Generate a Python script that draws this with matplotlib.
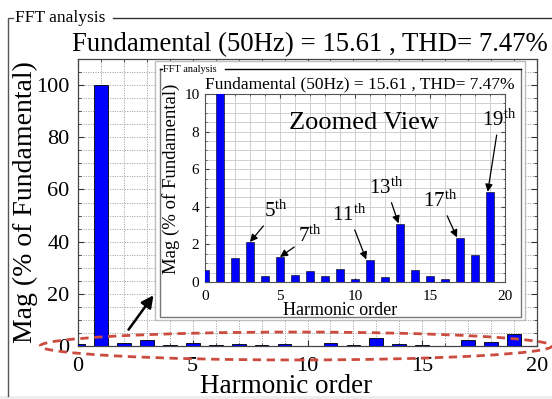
import matplotlib
matplotlib.use("Agg")
import matplotlib.pyplot as plt
from matplotlib.patches import Ellipse, Rectangle
from matplotlib.lines import Line2D
from matplotlib.ticker import MultipleLocator

plt.rcParams['font.family'] = ['Liberation Serif', 'DejaVu Serif']
plt.rcParams['mathtext.fontset'] = 'custom'
plt.rcParams['mathtext.rm'] = 'Liberation Serif'
plt.rcParams['mathtext.it'] = 'Liberation Serif:italic'

# Harmonic spectrum, magnitude in % of the fundamental
harmonics = list(range(0, 21))
magnitude = [0.66, 100.0, 1.27, 2.13, 0.34, 1.31, 0.39, 0.61, 0.30, 0.70,
             0.16, 1.16, 0.25, 3.08, 0.66, 0.34, 0.16, 2.35, 1.43, 4.78, 0.0]

title_text = "Fundamental (50Hz) = 15.61 , THD= 7.47%"
panel_label = "FFT analysis"
x_label = "Harmonic order"
y_label = "Mag (% of Fundamental)"

# labelled harmonics in the zoomed view: (text, label position, arrow tip)
callouts = [
    ("5",  (4.7, 3.75),  (3.0, 2.13)),
    ("7",  (7.0, 2.45),  (5.0, 1.33)),
    ("11", (9.6, 3.55),  (10.75, 1.2)),
    ("13", (12.1, 5.0),  (12.9, 3.12)),
    ("17", (15.7, 4.3),  (16.8, 2.37)),
    ("19", (19.6, 8.6),  (18.85, 4.8)),
]

W, H = 552, 399
fig = plt.figure(figsize=(W / 100, H / 100), dpi=100)
fig.patch.set_facecolor('white')


def fx(px):
    return px / W


def fy(py):
    return 1 - py / H


def frame_line(xs, ys, color='black', lw=1.0, z=0.5):
    fig.add_artist(Line2D([fx(x) for x in xs], [fy(y) for y in ys],
                          color=color, lw=lw, zorder=z))


# outer panel frame
fig.add_artist(Rectangle((0, 0), 1, fy(396), transform=fig.transFigure,
                         facecolor='#ededed', edgecolor='none', zorder=0.1))
frame_line([8, 8, 13], [396, 18, 18], color='#555555')
frame_line([113, 552], [18, 18], color='#333333')
fig.text(fx(15), fy(18), panel_label, fontsize=12.5, va='center', ha='left')
fig.text(fx(310), fy(51), title_text, fontsize=19.3, ha='center', va='baseline')

# main axes
ax = fig.add_axes([fx(78), fy(346), fx(537) - fx(78), fy(59) - fy(346)])
ax.bar(harmonics, magnitude, width=0.6, color='#0000ff', edgecolor='black',
       linewidth=0.6, zorder=3)
ax.set_xlim(0, 20)
ax.set_ylim(0, 110)
ax.xaxis.set_major_locator(MultipleLocator(5))
ax.xaxis.set_minor_locator(MultipleLocator(1))
ax.yaxis.set_major_locator(MultipleLocator(20))
ax.yaxis.set_minor_locator(MultipleLocator(5))
ax.grid(True, which='both', color='#9a9a9a', linestyle=(0, (1, 1.5)), lw=0.7)
ax.set_axisbelow(True)
ax.tick_params(which='both', direction='in', top=True, right=True,
               labelsize=16, colors='#333333', labelcolor='black')
ax.tick_params(which='major', length=4)
ax.tick_params(which='minor', length=2)
ax.tick_params(axis='x', pad=8)
ax.tick_params(axis='y', pad=6)
for s in ax.spines.values():
    s.set_color('#444444')
    s.set_linewidth(0.9)
fig.text(fx(286), fy(393), x_label, fontsize=19.5, ha='center', va='baseline')
fig.text(fx(25), fy(202), y_label, fontsize=20, ha='center', va='center',
         rotation=90)

# highlighted low-magnitude band
ax.add_patch(Ellipse((9.5, 0), 22.3, 10.7, fill=False, edgecolor='#cc4b3f',
                     lw=2.0, linestyle=(0, (3, 2)), clip_on=False, zorder=5))
ax.annotate('', xy=(3.36, 20.3), xytext=(2.13, 5.4),
            arrowprops=dict(arrowstyle='-|>', color='black', lw=1.8,
                            mutation_scale=18), zorder=6, annotation_clip=False)

# inset panel
fig.add_artist(Rectangle((fx(155), fy(320)), fx(525) - fx(155), fy(61) - fy(320),
                         transform=fig.transFigure, facecolor='white',
                         edgecolor='#bdbdbd', lw=1.0, zorder=1))
frame_line([160, 160, 521, 521], [69, 317, 317, 69], color='#777777', lw=1.0, z=1.1)
frame_line([160, 162], [69, 69], color='black', z=1.1)
frame_line([225, 521], [69, 69], color='black', z=1.1)
fig.text(fx(163), fy(69), panel_label, fontsize=7.5, va='center', ha='left', zorder=1.2)
fig.text(fx(360), fy(88), title_text, fontsize=12.5, ha='center', va='baseline',
         zorder=1.2)

ins = fig.add_axes([fx(205), fy(282), fx(505) - fx(205), fy(94) - fy(282)])
ins.set_zorder(2)
ins.bar(harmonics, magnitude, width=0.55, color='#0000ff', edgecolor='black',
        linewidth=0.4, zorder=3)
ins.set_xlim(0, 20)
ins.set_ylim(0, 10)
ins.xaxis.set_major_locator(MultipleLocator(5))
ins.xaxis.set_minor_locator(MultipleLocator(1))
ins.yaxis.set_major_locator(MultipleLocator(2))
ins.yaxis.set_minor_locator(MultipleLocator(0.5))
ins.grid(True, which='both', color='#c8c8c8', linestyle='-', lw=0.6)
ins.set_axisbelow(True)
ins.tick_params(which='both', direction='in', top=True, right=True,
                labelsize=11, colors='#444444', labelcolor='black')
ins.tick_params(which='major', length=3)
ins.tick_params(which='minor', length=1.5)
ins.tick_params(axis='x', pad=6)
ins.tick_params(axis='y', pad=4)
for s in ins.spines.values():
    s.set_color('#555555')
    s.set_linewidth(0.8)
fig.text(fx(340), fy(315), x_label, fontsize=13, ha='center', va='baseline',
         zorder=3)
fig.text(fx(171), fy(179), y_label, fontsize=13.5, ha='center', va='center',
         rotation=90, zorder=3)
ins.text(10.6, 8.45, "Zoomed View", fontsize=19, ha='center', va='center',
         zorder=4)

for num, (tx, ty), (hx, hy) in callouts:
    ins.annotate(num + r'$^{\mathrm{th}}$', xy=(hx, hy), xytext=(tx, ty),
                 fontsize=15, ha='center', va='center', zorder=5,
                 arrowprops=dict(arrowstyle='-|>', color='black', lw=0.9,
                                 mutation_scale=11, shrinkA=1, shrinkB=0))

fig.savefig('out.png', dpi=100)
